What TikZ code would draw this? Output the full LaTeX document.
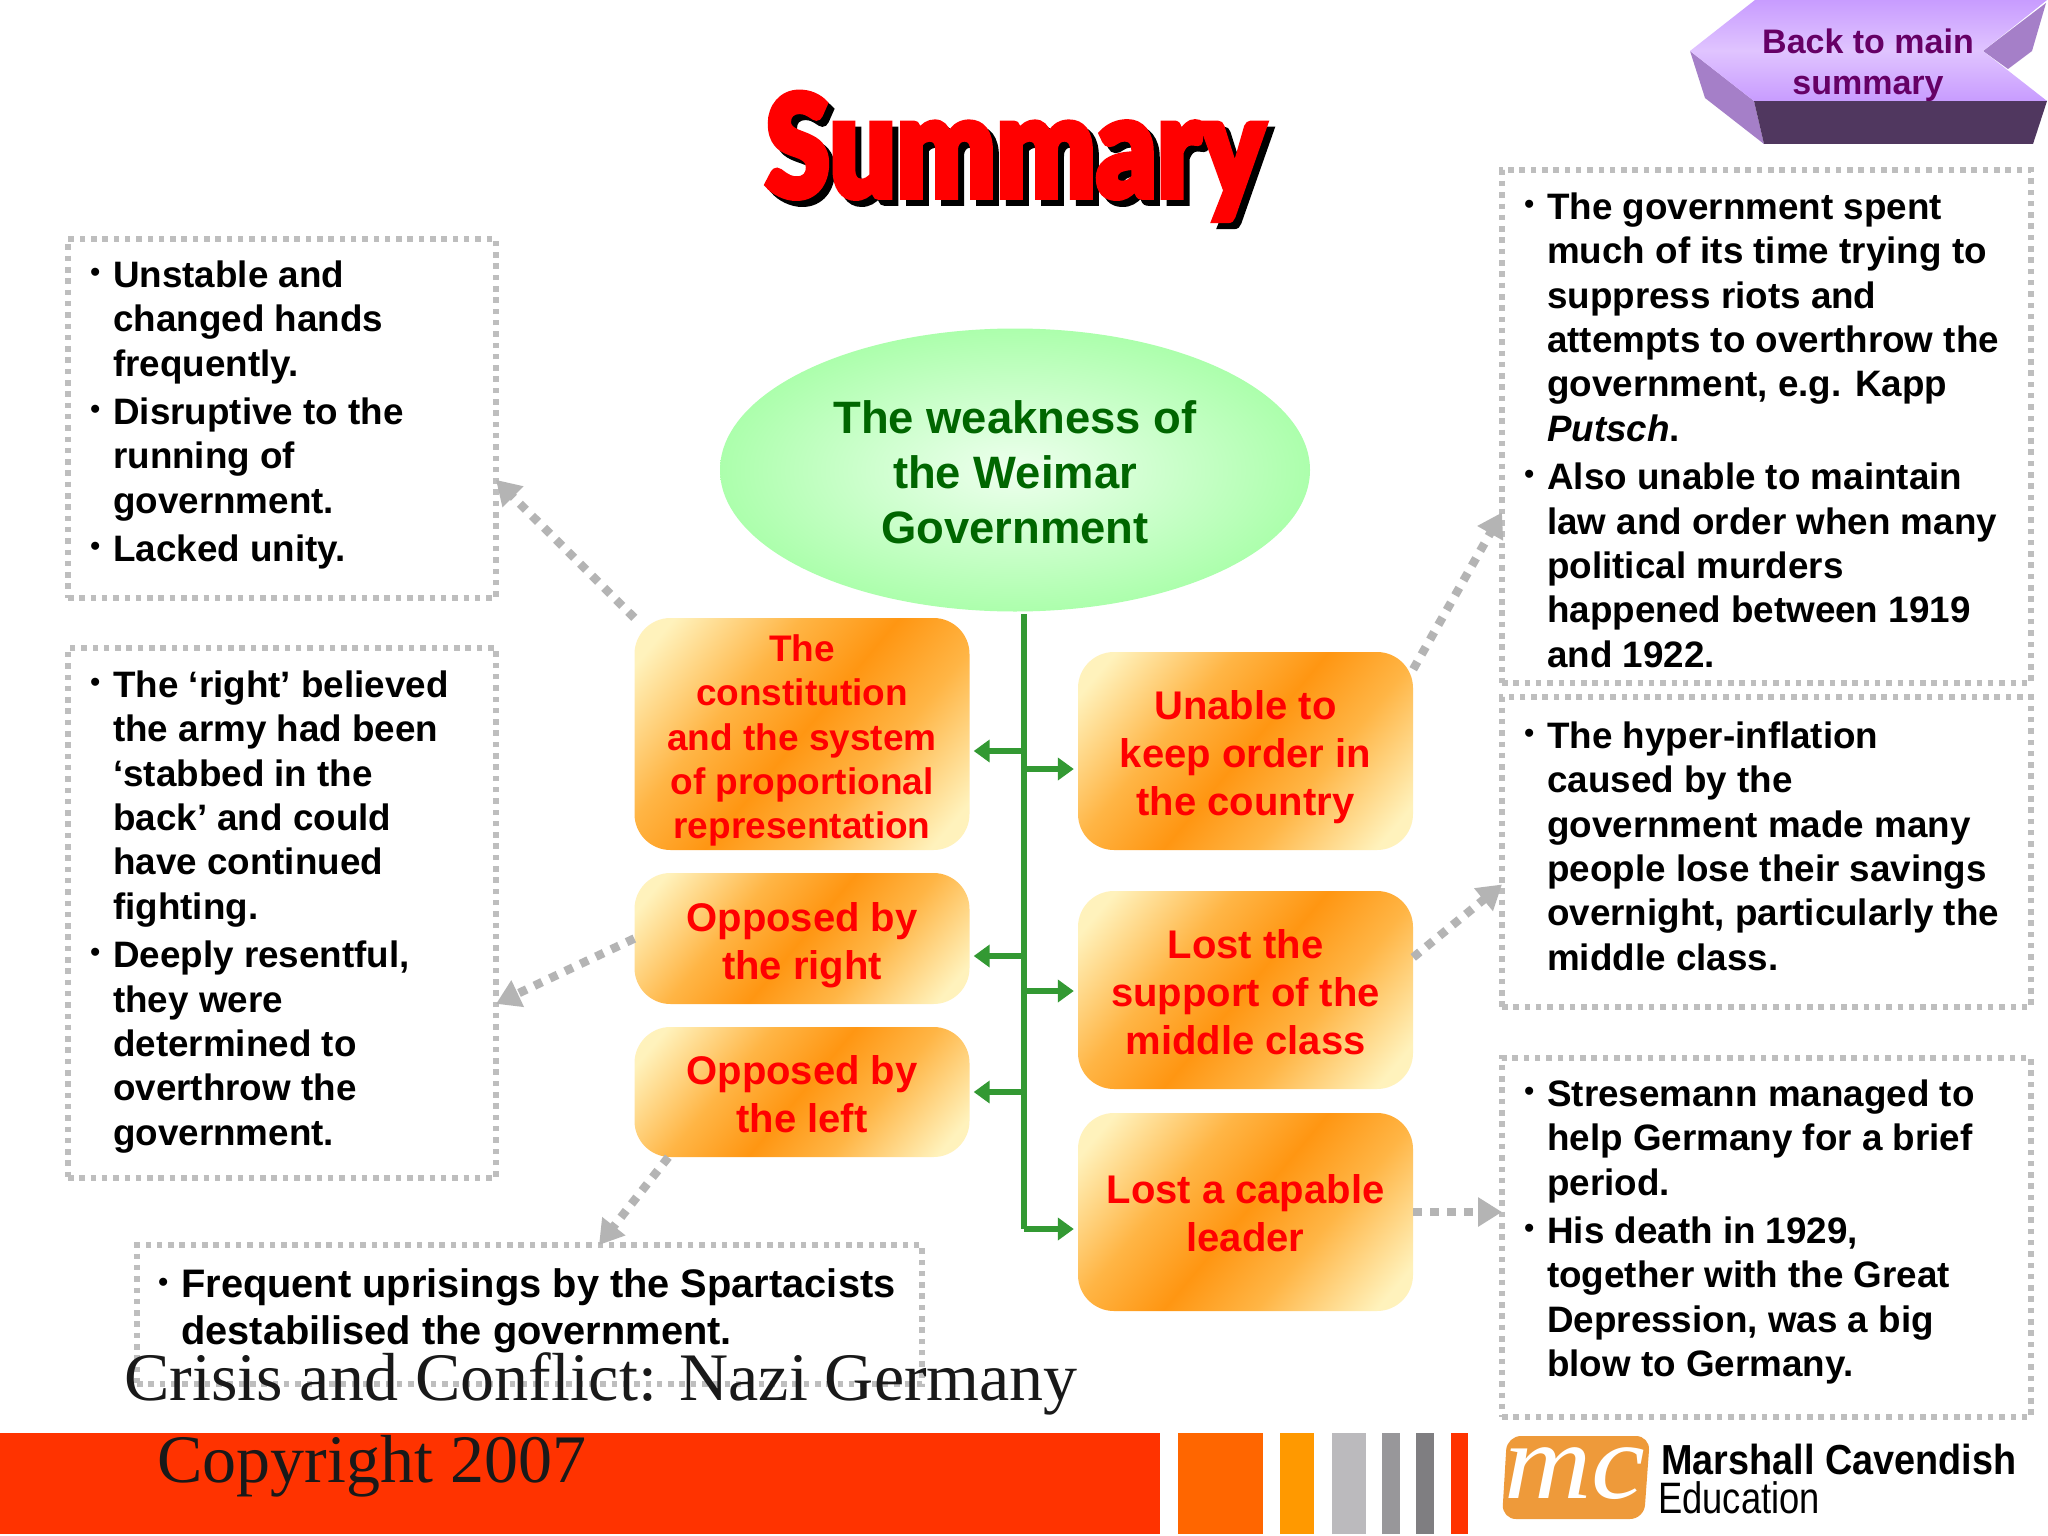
\documentclass[tikz,border=0pt]{standalone}
\usepackage{fontspec}
\setmainfont{Liberation Sans}
\newfontfamily\serifovl{Liberation Serif}
\newfontfamily\heavyfont[FakeBold=4]{Lato Black}
\usetikzlibrary{arrows.meta,shapes.geometric,calc}
\definecolor{dotgray}{HTML}{BEBEBE}
\definecolor{linkgray}{HTML}{B4B4B4}
\definecolor{trunkgreen}{HTML}{339933}
\definecolor{barred}{HTML}{FF3300}
\definecolor{deepgreen}{HTML}{006600}
\definecolor{logoorange}{HTML}{EE9A3A}
\definecolor{palegold}{HTML}{FFF2BC}
\definecolor{softorange}{HTML}{FFB545}
\definecolor{midorange}{HTML}{FF9612}
\pgfdeclareverticalshading{causefill}{100bp}{color(0bp)=(palegold); color(20bp)=(palegold); color(37bp)=(softorange); color(50bp)=(midorange); color(63bp)=(softorange); color(80bp)=(palegold); color(100bp)=(palegold)}
\newcommand{\blt}{\llap{\raisebox{6pt}{\fontsize{28}{28}\selectfont •}\hspace{13pt}}}
\newcommand{\firstl}{\rule{0pt}{30pt}}
\newcommand{\pushd}[1]{\rule{0pt}{#1pt}}
\tikzset{
  x=1pt,y=-1pt,
  infobox/.style={draw=dotgray,line width=5.5pt,dash pattern=on 5.5pt off 5.8pt,anchor=north west,inner sep=0pt,outer sep=0pt},
  infotext/.style={anchor=north west,inner sep=0pt,align=left,font=\fontsize{36.8}{44.4}\selectfont\bfseries,text=black},
  causebox/.style={rectangle,rounded corners=36pt,shading=causefill,shading angle=50,minimum width=335pt,text=red,align=center,font=\fontsize{37}{44.4}\selectfont\bfseries,inner sep=0pt},
  causebig/.style={causebox,font=\fontsize{40}{48}\selectfont\bfseries},
  linkarrow/.style={draw=linkgray,line width=8.5pt,dash pattern=on 8.5pt off 8.5pt,-{Triangle[length=24pt,width=28pt,fill=linkgray]}},
  brancharrow/.style={draw=trunkgreen,line width=6pt,-{Triangle[length=16pt,width=22pt]},shorten >=4pt},
  barseg/.style={inner sep=0pt,anchor=north west,minimum height=101pt},
  ovltext/.style={anchor=base west,inner sep=0pt,font=\serifovl\fontsize{68}{68}\selectfont,text=black!90}
}
\begin{document}
\begin{tikzpicture}
\useasboundingbox (0,0) rectangle (2048,1536);
\fill[white] (0,0) rectangle (2048,1536);
% title
\node[anchor=base,inner sep=0pt,text=black] (titleshadow) at (1021,203) {\scalebox{0.827}[1.0]{\heavyfont\fontsize{142}{142}\selectfont Summary}};
\node[anchor=base,inner sep=0pt,text=red] (title) at (1015,197) {\scalebox{0.827}[1.0]{\heavyfont\fontsize{142}{142}\selectfont Summary}};
% back button
\fill[color={rgb,255:red,165;green,127;blue,200}] (1690,51) -- (1705,98) -- (1764,144) -- (1754,101) -- cycle;
\fill[color={rgb,255:red,165;green,127;blue,200}] (1983,51) -- (2046,3) -- (2032,51) -- (2008,69) -- cycle;
\fill[color={rgb,255:red,80;green,55;blue,95}] (1754,101) -- (2047,101) -- (2033,144) -- (1764,144) -- cycle;
\shade[top color={rgb,255:red,200;green,156;blue,255},bottom color={rgb,255:red,200;green,156;blue,255},middle color={rgb,255:red,224;green,196;blue,255}]
  (1755,0) -- (2047,0) -- (1983,51) -- (2047,101) -- (1754,101) -- (1690,51) -- cycle;
\node[inner sep=0pt,align=center,text={rgb,255:red,102;green,0;blue,102},font=\fontsize{34}{41}\selectfont\bfseries] (back) at (1868,65) {Back to main\\summary};
% central ellipse
\node[ellipse,minimum width=590pt,minimum height=283pt,inner sep=0pt,shading=radial,inner color={rgb,255:red,238;green,255;blue,238},outer color={rgb,255:red,172;green,255;blue,172},text=deepgreen,align=center,font=\fontsize{45.4}{55}\selectfont\bfseries] (weak) at (1015,470) {\pushd{37}The weakness of\\the Weimar\\Government};
% info boxes
\node[infobox,minimum width=428pt,minimum height=359pt] (L1) at (68,239) {};
\node[infobox,minimum width=428pt,minimum height=530pt] (L2) at (68,648) {};
\node[infobox,minimum width=785pt,minimum height=139pt] (L3) at (137,1245) {};
\node[infobox,minimum width=529pt,minimum height=513pt] (R1) at (1502,170) {};
\node[infobox,minimum width=529pt,minimum height=310pt] (R2) at (1502,697) {};
\node[infobox,minimum width=529pt,minimum height=359pt] (R3) at (1502,1058) {};
\node[infotext] (L1t) at (113,257) {\firstl\blt Unstable and\\changed hands\\frequently.\\[4pt]\blt Disruptive to the\\running of\\government.\\[4pt]\blt Lacked unity.};
\node[infotext] (L2t) at (113,667) {\firstl\blt The ‘right’ believed\\the army had been\\‘stabbed in the\\back’ and could\\have continued\\fighting.\\[4pt]\blt Deeply resentful,\\they were\\determined to\\overthrow the\\government.};
\node[infotext,font=\fontsize{39.8}{47}\selectfont\bfseries] (L3t) at (181,1267) {\firstl\blt Frequent uprisings by the Spartacists\\destabilised the government.};
\node[infotext] (R1t) at (1547,189) {\firstl\blt The government spent\\much of its time trying to\\suppress riots and\\attempts to overthrow the\\government, e.g. Kapp\\\textit{Putsch}.\\[4pt]\blt Also unable to maintain\\law and order when many\\political murders\\happened between 1919\\and 1922.};
\node[infotext] (R2t) at (1547,718) {\firstl\blt The hyper-inflation\\caused by the\\government made many\\people lose their savings\\overnight, particularly the\\middle class.};
\node[infotext] (R3t) at (1547,1076) {\firstl\blt Stresemann managed to\\help Germany for a brief\\period.\\[4pt]\blt His death in 1929,\\together with the Great\\Depression, was a big\\blow to Germany.};
% cause boxes
\node[causebox,minimum height=232pt] (A) at (802,734) {\pushd{40}The\\constitution\\and the system\\of proportional\\representation};
\node[causebig,minimum height=131pt] (B) at (802,938.5) {\pushd{42}Opposed by\\the right};
\node[causebig,minimum height=130pt] (C) at (802,1092) {\pushd{34}Opposed by\\the left};
\node[causebig,minimum height=198pt] (D) at (1245.5,751) {\pushd{42}Unable to\\keep order in\\the country};
\node[causebig,minimum height=198pt] (E) at (1245.5,990) {\pushd{34}Lost the\\support of the\\middle class};
\node[causebig,minimum height=198pt] (F) at (1245.5,1212) {\pushd{32}Lost a capable\\leader};
% tree
\coordinate (ttop) at (1024,614);
\coordinate (tbot) at (1024,1229);
\coordinate (ja) at (1024,751);
\coordinate (jb) at (1024,956);
\coordinate (jc) at (1024,1092);
\coordinate (jd) at (1024,769);
\coordinate (je) at (1024,991);
\draw[draw=trunkgreen,line width=6pt] (ttop) -- (tbot);
\draw[brancharrow] (ja) -- (ja -| A.east);
\draw[brancharrow] (jb) -- (jb -| B.east);
\draw[brancharrow] (jc) -- (jc -| C.east);
\draw[brancharrow] (jd) -- (jd -| D.west);
\draw[brancharrow] (je) -- (je -| E.west);
\draw[brancharrow] (tbot) -- (tbot -| F.west);
% dotted links
\draw[linkarrow] (A.north west) -- (L1.-16);
\draw[linkarrow] (B.west) -- (L2.-23.7);
\draw[linkarrow] (C.-154.5) -- (L3.45);
\draw[linkarrow] (D.26.8) -- (R1.198.1);
\draw[linkarrow] (E.11.5) -- (R2.187.75);
\coordinate (fend) at (F.east -| R3.west);
\draw[linkarrow] (F.east) -- (fend);
% bottom bar
\node[barseg,fill=barred,minimum width=1160pt] (bar1) at (0,1433) {};
\node[barseg,fill={rgb,255:red,255;green,102;blue,0},minimum width=85pt] (bar2) at (1178,1433) {};
\node[barseg,fill={rgb,255:red,255;green,153;blue,0},minimum width=34pt] (bar3) at (1280,1433) {};
\node[barseg,fill={rgb,255:red,187;green,186;blue,189},minimum width=34pt] (bar4) at (1332,1433) {};
\node[barseg,fill={rgb,255:red,152;green,151;blue,154},minimum width=18pt] (bar5) at (1382,1433) {};
\node[barseg,fill={rgb,255:red,127;green,126;blue,129},minimum width=18pt] (bar6) at (1416,1433) {};
\node[barseg,fill=barred,minimum width=17pt] (bar7) at (1451,1433) {};
% logo
\fill[logoorange,rounded corners=14pt] (1507,1436) -- (1650,1436) -- (1644,1519) -- (1502,1519) -- cycle;
\node[inner sep=0pt,text=white] (mclogo) at (1575,1474) {\scalebox{1.12}[1]{\serifovl\itshape\fontsize{108}{108}\selectfont mc}};
\node[anchor=base west,inner sep=0pt] (mcname) at (1661,1474) {\scalebox{0.9}[1]{\fontsize{42}{42}\selectfont\bfseries Marshall Cavendish}};
\node[anchor=base west,inner sep=0pt] (mcedu) at (1658,1513) {\scalebox{0.826}[1]{\fontsize{44}{44}\selectfont Education}};
% overlay text
\node[ovltext] (crisis) at (124,1400) {Crisis and Conflict: Nazi Germany};
\node[ovltext] (copy) at (157,1482) {Copyright 2007};
\end{tikzpicture}
\end{document}
